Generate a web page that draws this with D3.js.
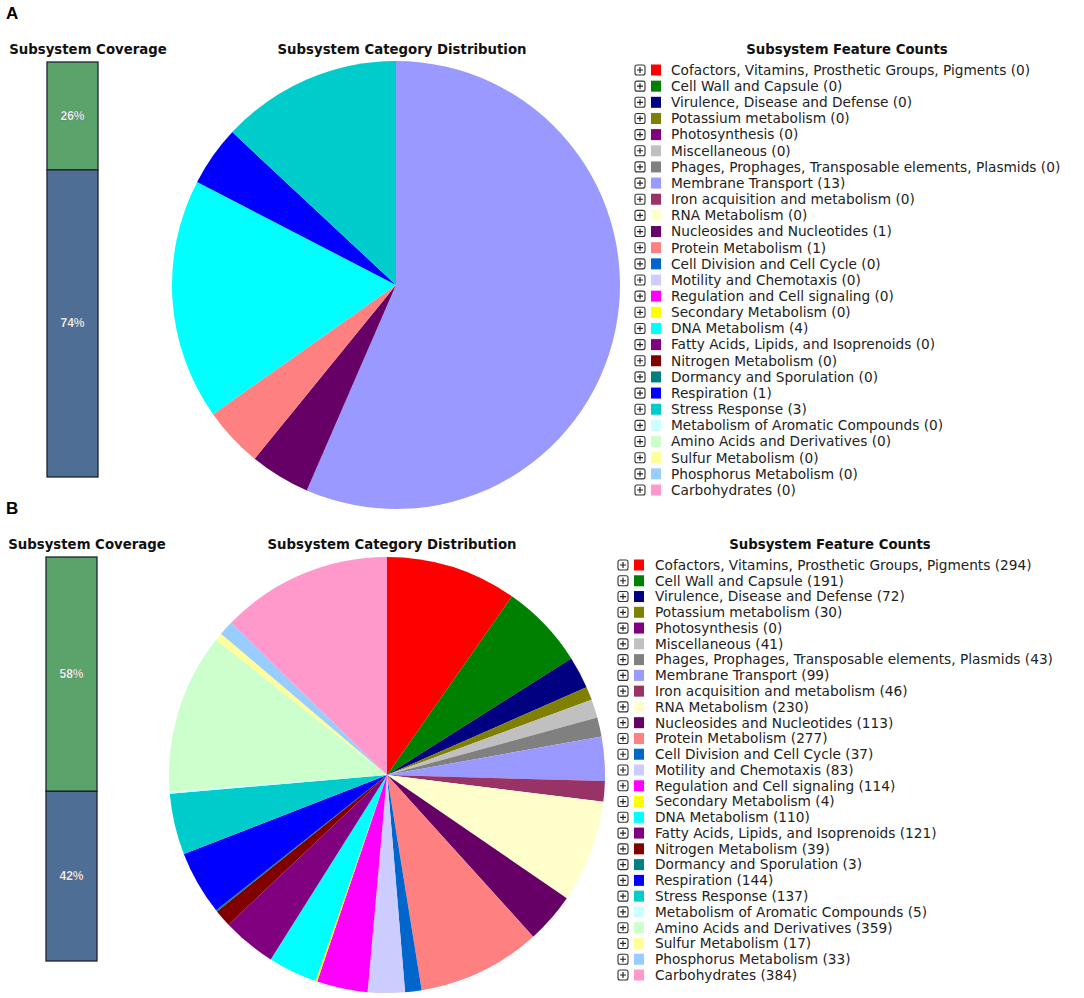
<!DOCTYPE html>
<html>
<head>
<meta charset="utf-8">
<script src="https://cdn.jsdelivr.net/npm/d3@7"></script>
<style>
  body { margin: 0; background: #fff; }
  text { font-family: "DejaVu Sans", Verdana, sans-serif; }
</style>
</head>
<body>
<div id="chart"></div>
<script>

/* subsystem categories, in legend order */
var categories = [
  "Cofactors, Vitamins, Prosthetic Groups, Pigments",
  "Cell Wall and Capsule",
  "Virulence, Disease and Defense",
  "Potassium metabolism",
  "Photosynthesis",
  "Miscellaneous",
  "Phages, Prophages, Transposable elements, Plasmids",
  "Membrane Transport",
  "Iron acquisition and metabolism",
  "RNA Metabolism",
  "Nucleosides and Nucleotides",
  "Protein Metabolism",
  "Cell Division and Cell Cycle",
  "Motility and Chemotaxis",
  "Regulation and Cell signaling",
  "Secondary Metabolism",
  "DNA Metabolism",
  "Fatty Acids, Lipids, and Isoprenoids",
  "Nitrogen Metabolism",
  "Dormancy and Sporulation",
  "Respiration",
  "Stress Response",
  "Metabolism of Aromatic Compounds",
  "Amino Acids and Derivatives",
  "Sulfur Metabolism",
  "Phosphorus Metabolism",
  "Carbohydrates"
];

var categoryColors = [
  "#ff0000", "#008000", "#000080", "#808000", "#800080", "#c0c0c0", "#808080",
  "#9999ff", "#993366", "#ffffcc", "#660066", "#ff8080", "#0066cc", "#ccccff",
  "#ff00ff", "#ffff00", "#00ffff", "#800080", "#800000", "#008080", "#0000ff",
  "#00cccc", "#ccffff", "#ccffcc", "#ffff99", "#99ccff", "#ff99cc"
];

var countsA = [0, 0, 0, 0, 0, 0, 0, 13, 0, 0, 1, 1, 0, 0, 0, 0, 4, 0, 0, 0, 1, 3, 0, 0, 0, 0, 0];
var countsB = [294, 191, 72, 30, 0, 41, 43, 99, 46, 230, 113, 277, 37, 83, 114, 4, 110, 121, 39, 3, 144, 137, 5, 359, 17, 33, 384];

/* coverage: [in subsystem, not in subsystem] */
var coverageLabels = ["in", "out"];
var coverageA = [26, 74];
var coverageB = [58, 42];
var coverageColors = ["#5aa36a", "#4f6e95"];

var panelNames = ["A", "B"];


var svg = d3.select("#chart").append("svg")
  .attr("width", 1084)
  .attr("height", 998);

/* layout for each panel */
var panels = [
  { name: panelNames[0], counts: countsA, cover: coverageA, top: 0,
    bar: {x: 47, w: 51, y0: 62, y1: 477}, barTitleX: 88,
    pie: {cx: 396, cy: 285, r: 224}, pieTitleX: 402,
    legend: {icon: 640, sq: 651, text: 671, y0: 70, y1: 490}, legendTitleX: 847,
    titleY: 54 },
  { name: panelNames[1], counts: countsB, cover: coverageB, top: 495,
    bar: {x: 46, w: 51, y0: 557, y1: 961}, barTitleX: 87,
    pie: {cx: 387, cy: 775, r: 218}, pieTitleX: 392,
    legend: {icon: 623, sq: 634, text: 655, y0: 565, y1: 975}, legendTitleX: 830,
    titleY: 549 }
];

panels.forEach(function (p) {
  var g = svg.append("g");

  // panel letter
  g.append("text")
    .attr("x", 6)
    .attr("y", p.top + 19)
    .style("font-family", "Arial, 'Liberation Sans', sans-serif")
    .style("font-weight", "bold")
    .style("font-size", "17px")
    .text(p.name);

  // titles
  var titles = [
    [p.barTitleX, "Subsystem Coverage"],
    [p.pieTitleX, "Subsystem Category Distribution"],
    [p.legendTitleX, "Subsystem Feature Counts"]
  ];
  titles.forEach(function (t) {
    g.append("text")
      .attr("x", t[0])
      .attr("y", p.titleY)
      .attr("text-anchor", "middle")
      .style("font-weight", "bold")
      .style("font-size", "13.3px")
      .style("fill", "#111")
      .text(t[1]);
  });

  /* coverage bar */
  var yCov = d3.scaleLinear().domain([0, 100]).range([p.bar.y0, p.bar.y1]);
  var stacked = [];
  var acc = 0;
  p.cover.forEach(function (v, i) {
    stacked.push({key: coverageLabels[i], start: acc, end: acc + v, value: v, color: coverageColors[i]});
    acc += v;
  });

  g.selectAll(".cov")
    .data(stacked)
    .enter().append("rect")
    .attr("x", p.bar.x)
    .attr("width", p.bar.w)
    .attr("y", function (d) { return yCov(d.start); })
    .attr("height", function (d) { return yCov(d.end) - yCov(d.start); })
    .attr("fill", function (d) { return d.color; })
    .attr("stroke", "#1c2330")
    .attr("stroke-width", 1.3);

  g.selectAll(".covlabel")
    .data(stacked)
    .enter().append("text")
    .attr("x", p.bar.x + p.bar.w / 2)
    .attr("y", function (d) { return (yCov(d.start) + yCov(d.end)) / 2 + 4; })
    .attr("text-anchor", "middle")
    .style("font-family", "Arial, 'Liberation Sans', sans-serif")
    .style("font-weight", "bold")
    .style("font-size", "12px")
    .style("fill", "#fff")
    .style("stroke", "rgba(0,0,0,0.25)")
    .style("stroke-width", 0.6)
    .text(function (d) { return d.value + "%"; });

  /* pie */
  var pie = d3.pie().sort(null).value(function (d) { return d; });
  var arc = d3.arc().innerRadius(0).outerRadius(p.pie.r);

  var pg = g.append("g")
    .attr("transform", "translate(" + p.pie.cx + "," + p.pie.cy + ")");

  pg.selectAll("path")
    .data(pie(p.counts))
    .enter().append("path")
    .filter(function (d) { return d.value > 0; })
    .attr("d", arc)
    .attr("fill", function (d, i) { return categoryColors[d.index]; });

  /* legend */
  var yLeg = d3.scalePoint().domain(categories).range([p.legend.y0, p.legend.y1]);

  var rows = g.selectAll(".row")
    .data(categories)
    .enter().append("g")
    .attr("transform", function (d) { return "translate(0," + yLeg(d) + ")"; });

  // expand icon
  rows.append("rect")
    .attr("x", p.legend.icon - 5)
    .attr("y", -5)
    .attr("width", 10)
    .attr("height", 10)
    .attr("rx", 2)
    .attr("fill", "#fff")
    .attr("stroke", "#333")
    .attr("stroke-width", 1.1);
  rows.append("path")
    .attr("d", "M" + (p.legend.icon - 3) + ",0H" + (p.legend.icon + 3) + "M" + p.legend.icon + ",-3V3")
    .attr("stroke", "#222")
    .attr("stroke-width", 1.2);

  rows.append("rect")
    .attr("x", p.legend.sq)
    .attr("y", -5.5)
    .attr("width", 10)
    .attr("height", 11)
    .attr("fill", function (d, i) { return categoryColors[i]; });

  rows.append("text")
    .attr("x", p.legend.text)
    .attr("y", 4.8)
    .style("font-size", "13.7px")
    .style("fill", "#222")
    .text(function (d, i) { return d + " (" + p.counts[i] + ")"; });
});

</script>
</body>
</html>
